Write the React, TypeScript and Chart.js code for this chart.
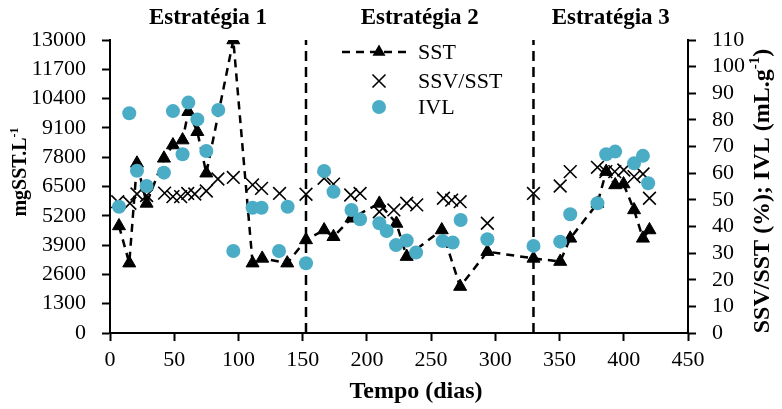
import React, { useEffect, useRef } from 'react';
import { Chart, registerables } from 'chart.js';

Chart.register(...registerables);

// ---- Data ----
const sstDays = [7, 15, 21, 28.5, 42, 49, 56.5, 61, 68, 75, 96, 111, 118.5, 138, 152.6, 166.7, 174, 188, 209.7, 223, 231, 258.3, 272.6, 293.8, 329.7, 350.5, 358.3, 379.5, 386.3, 393.3, 399.8, 408, 414.9, 420];
const sstValues = [4750, 3100, 7530, 5750, 7750, 8340, 8560, 9820, 8930, 7090, 13000, 3100, 3310, 3100, 4130, 4570, 4270, 5090, 5750, 4860, 3390, 4570, 2060, 3610, 3310, 3170, 4200, 5750, 7160, 6570, 6610, 5460, 4200, 4570];

const ratioDays = [6, 15.5, 21, 28.5, 42.5, 49, 55, 60.5, 66, 75, 84, 96, 111, 118, 132, 152.6, 166.7, 174, 187.4, 194.7, 209.7, 221, 231, 238.8, 259.6, 266, 272.6, 293.8, 329.7, 350.5, 358.3, 379.5, 386, 393, 400, 408, 415, 420];
const ratioValues = [49.3, 48.7, 52.2, 51.6, 52.5, 51.2, 51.2, 52.4, 52.2, 53.3, 57.8, 58.4, 55.6, 54.3, 52.4, 52.1, 58.1, 55.9, 51.8, 52.4, 45.5, 46.2, 48.7, 48.1, 50.6, 49.9, 49.3, 41.2, 52.4, 55.2, 60.6, 62.2, 60.6, 60.6, 61.2, 58.7, 59.7, 50.6];

const ivlDays = [7, 15, 21, 28.5, 42, 49, 56.5, 61, 68, 75, 84.3, 96, 111, 118, 131.6, 138.3, 152.6, 166.7, 174, 188, 194.7, 209.7, 215.4, 222.7, 231, 238.3, 259, 266.8, 273, 293.8, 329.7, 350.5, 358.3, 379.5, 386.3, 393.3, 408, 414.9, 419];
const ivlValues = [47.4, 82.5, 60.9, 55.2, 60.2, 83.3, 67.1, 86.5, 80.2, 68.3, 83.7, 30.8, 47.0, 47.0, 30.8, 47.4, 26.2, 60.8, 53.0, 46.2, 42.7, 41.2, 38.3, 33.0, 34.7, 30.2, 34.5, 34.0, 42.4, 35.2, 32.7, 34.3, 44.6, 48.7, 67.1, 68.1, 63.7, 66.5, 56.2];

const strategyBoundaries = [152.6, 329.7];
const strategyLabels = ['Estratégia 1', 'Estratégia 2', 'Estratégia 3'];

const xMin = 0, xMax = 450, xStep = 50;
const leftMax = 13000, leftStep = 1300;
const rightMax = 110, rightStep = 10;

const legendLabels = ['SST', 'SSV/SST', 'IVL'];
const xTitle = 'Tempo (dias)';
const leftTitle = [{ t: 'mgSST.L' }, { t: '-1', sup: true }];
const rightTitle = [{ t: 'SSV/SST (%); IVL (mL.g' }, { t: '-1', sup: true }, { t: ')' }];

const FAM = '"Liberation Serif", "Times New Roman", serif';
const IVL_COLOR = '#4BACC6';

function drawRich(ctx: CanvasRenderingContext2D, parts: { t: string; sup?: boolean }[], cx: number, cy: number, size: number, rotate: boolean) {
  ctx.save();
  ctx.translate(cx, cy);
  if (rotate) ctx.rotate(-Math.PI / 2);
  ctx.fillStyle = '#000';
  ctx.textBaseline = 'middle';
  ctx.textAlign = 'left';
  let total = 0;
  const widths: number[] = [];
  for (const p of parts) {
    ctx.font = `bold ${p.sup ? Math.round(size * 0.62) : size}px ${FAM}`;
    const w = ctx.measureText(p.t).width;
    widths.push(w);
    total += w;
  }
  let x = -total / 2;
  parts.forEach((p, i) => {
    ctx.font = `bold ${p.sup ? Math.round(size * 0.62) : size}px ${FAM}`;
    ctx.fillText(p.t, x, p.sup ? -size * 0.32 : 0);
    x += widths[i];
  });
  ctx.restore();
}

const overlayPlugin = {
  id: 'overlay',
  afterDraw(chart: any) {
    const ctx: CanvasRenderingContext2D = chart.ctx;
    const xs = chart.scales.x;
    // strategy labels
    const bounds = [xMin, ...strategyBoundaries, xMax];
    ctx.save();
    ctx.fillStyle = '#000';
    ctx.font = `bold 23px ${FAM}`;
    ctx.textAlign = 'center';
    ctx.textBaseline = 'middle';
    strategyLabels.forEach((lab, i) => {
      const mid = (xs.getPixelForValue(bounds[i]) + xs.getPixelForValue(bounds[i + 1])) / 2;
      ctx.fillText(lab, mid, 18);
    });
    ctx.restore();

    // axis titles
    drawRich(ctx, [{ t: xTitle }], 416, 392, 24, false);
    drawRich(ctx, leftTitle, 21, 172, 20, true);
    drawRich(ctx, rightTitle, 763, 191, 24, true);

    // legend
    ctx.save();
    const lx = 379;
    const rows = [52, 81, 107];
    ctx.strokeStyle = '#000';
    ctx.lineWidth = 2.5;
    ctx.setLineDash([8, 6]);
    ctx.beginPath();
    ctx.moveTo(342, rows[0]);
    ctx.lineTo(408, rows[0]);
    ctx.stroke();
    ctx.setLineDash([]);
    // triangle
    const r = 7.5;
    ctx.fillStyle = '#000';
    ctx.beginPath();
    ctx.moveTo(lx, rows[0] - r);
    ctx.lineTo(lx + r * 0.866, rows[0] + r * 0.5);
    ctx.lineTo(lx - r * 0.866, rows[0] + r * 0.5);
    ctx.closePath();
    ctx.fill();
    // cross
    const c = 6.5;
    ctx.lineWidth = 1.6;
    ctx.beginPath();
    ctx.moveTo(lx - c, rows[1] - c);
    ctx.lineTo(lx + c, rows[1] + c);
    ctx.moveTo(lx + c, rows[1] - c);
    ctx.lineTo(lx - c, rows[1] + c);
    ctx.stroke();
    // circle
    ctx.fillStyle = IVL_COLOR;
    ctx.beginPath();
    ctx.arc(lx, rows[2], 7, 0, Math.PI * 2);
    ctx.fill();
    ctx.fillStyle = '#000';
    ctx.font = `22px ${FAM}`;
    ctx.textAlign = 'left';
    ctx.textBaseline = 'middle';
    legendLabels.forEach((l, i) => ctx.fillText(l, 418, rows[i] + 1));
    ctx.restore();
  },
};

const tickFont = { family: FAM, size: 22 };
const plainTick = (v: any) => String(v);

export default function App() {
  const ref = useRef<HTMLCanvasElement | null>(null);
  useEffect(() => {
    if (!ref.current) return;
    const chart = new Chart(ref.current, {
      type: 'scatter',
      data: {
        datasets: [
          {
            label: 'IVL',
            data: ivlDays.map((d, i) => ({ x: d, y: ivlValues[i] })),
            yAxisID: 'y1',
            pointStyle: 'circle',
            pointRadius: 7,
            backgroundColor: IVL_COLOR,
            borderColor: IVL_COLOR,
            borderWidth: 0,
            order: 0,
          },
          {
            label: 'SST',
            data: sstDays.map((d, i) => ({ x: d, y: sstValues[i] })),
            yAxisID: 'y',
            showLine: true,
            borderColor: '#000',
            backgroundColor: '#000',
            borderWidth: 2.5,
            borderDash: [8, 6],
            pointStyle: 'triangle',
            pointRadius: 7.5,
            pointBorderWidth: 1,
            tension: 0,
            order: 1,
          },
          {
            label: 'SSV/SST',
            data: ratioDays.map((d, i) => ({ x: d, y: ratioValues[i] })),
            yAxisID: 'y1',
            pointStyle: 'crossRot',
            pointRadius: 9,
            borderColor: '#000',
            backgroundColor: '#000',
            pointBorderWidth: 1.6,
            order: 2,
          },
          ...strategyBoundaries.map((b) => ({
            label: 'boundary',
            data: [{ x: b, y: 0 }, { x: b, y: leftMax }],
            yAxisID: 'y',
            showLine: true,
            borderColor: '#000',
            borderWidth: 2.5,
            borderDash: [10, 6],
            pointRadius: 0,
            order: 3,
          })),
        ],
      },
      options: {
        responsive: false,
        animation: false,
        events: [],
        layout: { padding: { top: 40, left: 0, right: 0, bottom: 0 } },
        plugins: { legend: { display: false }, tooltip: { enabled: false } },
        scales: {
          x: {
            type: 'linear',
            min: xMin,
            max: xMax,
            ticks: { stepSize: xStep, color: '#000', font: tickFont, padding: 6, autoSkip: false, maxRotation: 0, callback: plainTick },
            grid: { drawOnChartArea: false, tickLength: 8, tickColor: '#000', tickWidth: 2 },
            border: { color: '#000', width: 2 },
            afterFit: (s: any) => { s.height = 76; },
          },
          y: {
            type: 'linear',
            position: 'left',
            min: 0,
            max: leftMax,
            ticks: { stepSize: leftStep, color: '#000', font: tickFont, padding: 16, autoSkip: false, callback: plainTick },
            grid: { drawOnChartArea: false, tickLength: 8, tickColor: '#000', tickWidth: 2 },
            border: { color: '#000', width: 2 },
            afterFit: (s: any) => { s.width = 110; },
          },
          y1: {
            type: 'linear',
            position: 'right',
            min: 0,
            max: rightMax,
            ticks: { stepSize: rightStep, color: '#000', font: tickFont, padding: 16, autoSkip: false, callback: plainTick },
            grid: { drawOnChartArea: false, tickLength: 8, tickColor: '#000', tickWidth: 2 },
            border: { color: '#000', width: 2 },
            afterFit: (s: any) => { s.width = 94; },
          },
        },
      } as any,
      plugins: [overlayPlugin],
    });
    return () => chart.destroy();
  }, []);
  return (
    <div style={{ position: 'fixed', left: 0, top: 0, width: 782, height: 409, background: '#fff' }}>
      <canvas ref={ref} width={782} height={409} style={{ width: 782, height: 409 }} />
    </div>
  );
}
